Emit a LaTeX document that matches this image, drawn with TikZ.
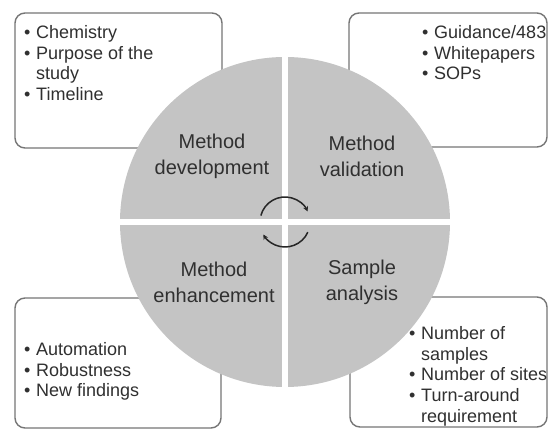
\documentclass[tikz,border=0pt]{standalone}
\usepackage{fontspec}
\setmainfont{Liberation Sans}
\usetikzlibrary{arrows.meta}
\definecolor{discgray}{RGB}{196,196,196}
\definecolor{framegray}{RGB}{118,118,118}
\definecolor{inkgray}{RGB}{48,48,48}
\newcommand{\itm}{\makebox[12pt][l]{\textbullet}}
\newcommand{\cnt}{\hspace*{12pt}}
\tikzset{
  framebox/.style={draw=framegray,line width=1.4pt,rounded corners=10pt},
  quarter/.style={align=center,text=inkgray,inner sep=0pt,font=\fontsize{20}{26}\selectfont},
  bullets/.style={align=left,anchor=north west,inner sep=0pt,text=inkgray,font=\fontsize{18}{20.8}\selectfont},
  cycle/.style={line width=1.5pt,black!85,-{Stealth[length=5pt,width=5pt]}}
}

\begin{document}
\begin{tikzpicture}[x=1pt,y=1pt]
\clip (0,0) rectangle (549,430);
\fill[white] (0,0) rectangle (549,430);
% frames, half hidden by the disc
\draw[framebox] (15,282) rectangle (222,417);
\draw[framebox] (349,283) rectangle (547,417);
\draw[framebox] (15,2) rectangle (221,132);
\draw[framebox] (350,3) rectangle (547,133);
% disc cut in four
\coordinate (hub) at (285,208);
\fill[discgray] (hub) circle (165);
\draw[white,line width=6pt] ([xshift=-170pt]hub) -- ([xshift=170pt]hub);
\draw[white,line width=6pt] ([yshift=-170pt]hub) -- ([yshift=170pt]hub);
\node[quarter] (dev) at (212,274) {Method\\development};
\node[quarter] (val) at (362,274) {Method\\validation};
\node[quarter] (enh) at (214,148) {Method\\enhancement};
\node[quarter] (ana) at (362,148) {Sample\\analysis};
% turning arrows in the middle
\draw[cycle] ([shift={(165:25)}]hub) arc (165:25:25);
\draw[cycle] ([shift={(-24:25)}]hub) arc (-24:-150:25);
% lists
\node[bullets] (devlist) at (24,405) {\itm Chemistry\\\itm Purpose of the\\\cnt study\\\itm Timeline};
\node[bullets] (vallist) at (422,405) {\itm Guidance/483\\\itm Whitepapers\\\itm SOPs};
\node[bullets] (enhlist) at (24,88) {\itm Automation\\\itm Robustness\\\itm New findings};
\node[bullets] (analist) at (409,104) {\itm Number of\\\cnt samples\\\itm Number of sites\\\itm Turn-around\\\cnt requirement};
\end{tikzpicture}
\end{document}
